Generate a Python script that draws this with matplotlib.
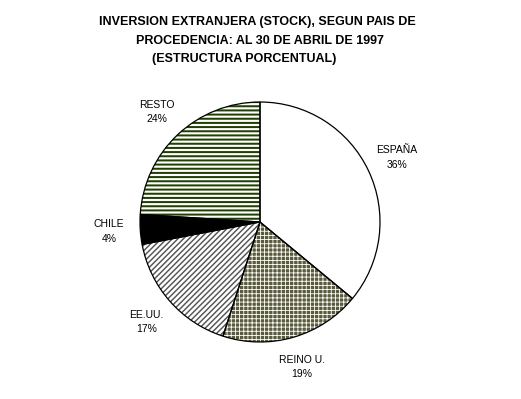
import matplotlib
matplotlib.use("Agg")
import matplotlib.pyplot as plt
from matplotlib import font_manager as fm

categories = ["ESPAÑA", "REINO U.", "EE.UU.", "CHILE", "RESTO"]
values = [36, 19, 17, 4, 24]
title_lines = ["INVERSION EXTRANJERA (STOCK), SEGUN PAIS DE",
               "PROCEDENCIA: AL 30 DE ABRIL DE 1997",
               "(ESTRUCTURA PORCENTUAL)"]

faces = ["white", "#5a5a3c", "white", "black", "white"]
hatches = [None, "++++", "//////", None, "----"]
hatch_cols = ["black", "white", "#555555", "black", "#1f4000"]
hatch_lws = [1.0, 0.6, 1.05, 1.0, 1.45]

names = {f.name for f in fm.fontManager.ttflist}
if "Liberation Sans Narrow" in names:
    title_family, title_size = "Liberation Sans Narrow", 10.8
else:
    title_family, title_size = "Liberation Sans", 9

fig = plt.figure(figsize=(5.21, 3.99), dpi=100)
ax = fig.add_axes([0, 0, 1, 1])

labels = [f"{c}\n{v}%" for c, v in zip(categories, values)]
center = (260, 399 - 222)
radius = 120

for i in range(len(values)):
    with plt.rc_context({"hatch.linewidth": hatch_lws[i]}):
        ws, ts = ax.pie(values, startangle=90, counterclock=False,
                        center=center, radius=radius,
                        labels=labels if i == 0 else None,
                        labeldistance=1.26, frame=True,
                        textprops=dict(fontsize=7.5, family="Liberation Sans",
                                       ha="center", va="center", linespacing=1.55))
    for j, w in enumerate(ws):
        if j != i:
            w.set_visible(False)
            continue
        w.set_facecolor(faces[i])
        w.set_edgecolor(hatch_cols[i])
        w.set_linewidth(0)
        if hatches[i]:
            w.set_hatch(hatches[i])
            if hasattr(w, "set_hatch_linewidth"):
                w.set_hatch_linewidth(hatch_lws[i])
    for t in ts:
        t.set_ha("center")

ax.pie(values, startangle=90, counterclock=False,
       center=center, radius=radius, frame=True,
       wedgeprops=dict(facecolor="none", edgecolor="black", linewidth=0.9))

ax.set_xlim(0, 521)
ax.set_ylim(0, 399)
ax.set_aspect("equal")
ax.axis("off")

fig.text(257 / 521, 1 - 22 / 399, title_lines[0], ha="center", va="center",
         fontsize=title_size, fontweight="bold", family=title_family)
fig.text(260 / 521, 1 - 41 / 399, title_lines[1], ha="center", va="center",
         fontsize=title_size, fontweight="bold", family=title_family)
fig.text(244 / 521, 1 - 59 / 399, title_lines[2], ha="center", va="center",
         fontsize=title_size, fontweight="bold", family=title_family)

fig.savefig("out.png", dpi=100, facecolor="white")
